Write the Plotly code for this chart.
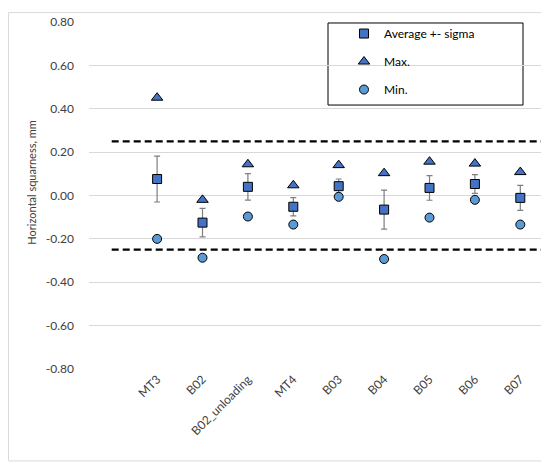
import plotly.graph_objects as go

categories = ["MT3", "B02", "B02_unloading", "MT4", "B03", "B04", "B05", "B06", "B07"]
average = [0.076, -0.125, 0.040, -0.052, 0.043, -0.065, 0.035, 0.053, -0.011]
sigma = [0.106, 0.066, 0.061, 0.042, 0.033, 0.090, 0.057, 0.043, 0.058]
maximum = [0.451, -0.020, 0.144, 0.047, 0.140, 0.103, 0.156, 0.147, 0.108]
minimum = [-0.200, -0.287, -0.097, -0.134, -0.006, -0.293, -0.102, -0.020, -0.134]
limit_upper = 0.25
limit_lower = -0.25
y_ticks = [-0.8, -0.6, -0.4, -0.2, 0.0, 0.2, 0.4, 0.6, 0.8]
y_tick_labels = ["-0.80", "-0.60", "-0.40", "-0.20", "0.00", "0.20", "0.40", "0.60", "0.80"]

xs = list(range(len(categories)))
FONT = "Lato"
TXT = "#404040"

# page body has an 8px default margin; plot area target: x 89..543, y 18..369
def px(xabs):
    return (xabs - 89) / 454

def py(yabs):
    return (369 - yabs) / 351

fig = go.Figure()

for lim in (limit_upper, limit_lower):
    fig.add_trace(go.Scatter(
        x=[-1, len(categories) - 0.5], y=[lim, lim], mode="lines",
        line=dict(color="black", width=2.2, dash="7px,4px"),
        showlegend=False, hoverinfo="skip"))

fig.add_trace(go.Scatter(
    x=xs, y=average, mode="markers", name="Average +- sigma",
    legendgroup="a",
    marker=dict(symbol="square", size=9, color="#4472C4",
                line=dict(color="black", width=1)),
    error_y=dict(type="data", array=sigma, visible=True,
                 color="#7f7f7f", thickness=1.2, width=3)))

fig.add_trace(go.Scatter(
    x=xs, y=maximum, mode="markers", name="Max.",
    legendgroup="b",
    marker=dict(symbol="triangle-up", size=10, color="#4472C4",
                line=dict(color="black", width=1))))

fig.add_trace(go.Scatter(
    x=xs, y=minimum, mode="markers", name="Min.",
    legendgroup="c",
    marker=dict(symbol="circle", size=9, color="#5B9BD5",
                line=dict(color="black", width=1))))

fig.update_layout(
    width=541, height=455,
    margin=dict(l=81, r=6, t=10, b=94),
    paper_bgcolor="white", plot_bgcolor="white",
    font=dict(family=FONT, size=12, color=TXT),
    legend=dict(
        x=px(344), y=py(15), xanchor="left", yanchor="top",
        bgcolor="rgba(0,0,0,0)", borderwidth=0,
        tracegroupgap=9, itemwidth=30,
        font=dict(family=FONT, size=12, color="black")),
    shapes=[
        dict(type="rect", xref="paper", yref="paper",
             x0=px(328), x1=px(523), y0=py(102), y1=py(19),
             line=dict(color="black", width=1), fillcolor="rgba(0,0,0,0)",
             layer="below"),
        dict(type="rect", xref="paper", yref="paper",
             x0=px(8.5), x1=px(548), y0=py(462), y1=py(8.5),
             line=dict(color="#d9d9d9", width=1), fillcolor="rgba(0,0,0,0)",
             layer="below"),
    ],
    annotations=[
        dict(text="Horizontal squarness, mm", xref="paper", yref="paper",
             x=px(32), y=py(180.5), xanchor="center", yanchor="middle",
             textangle=-90, showarrow=False,
             font=dict(family=FONT, size=11, color=TXT)),
    ],
)

fig.update_xaxes(
    range=[-1.5, len(categories) - 0.5],
    tickmode="array", tickvals=xs, ticktext=categories,
    tickangle=-45, showgrid=False, zeroline=False, showline=False,
    ticks="", ticklabelstandoff=0,
    tickfont=dict(family=FONT, size=12, color=TXT))

fig.update_yaxes(
    range=[-0.8, 0.8], tickmode="array", tickvals=y_ticks,
    ticktext=y_tick_labels, showgrid=True, gridcolor="#d9d9d9", gridwidth=1,
    zeroline=False, showline=False, ticks="", ticklabelstandoff=14,
    tickfont=dict(family=FONT, size=12, color=TXT))

fig.write_html("out.html")
